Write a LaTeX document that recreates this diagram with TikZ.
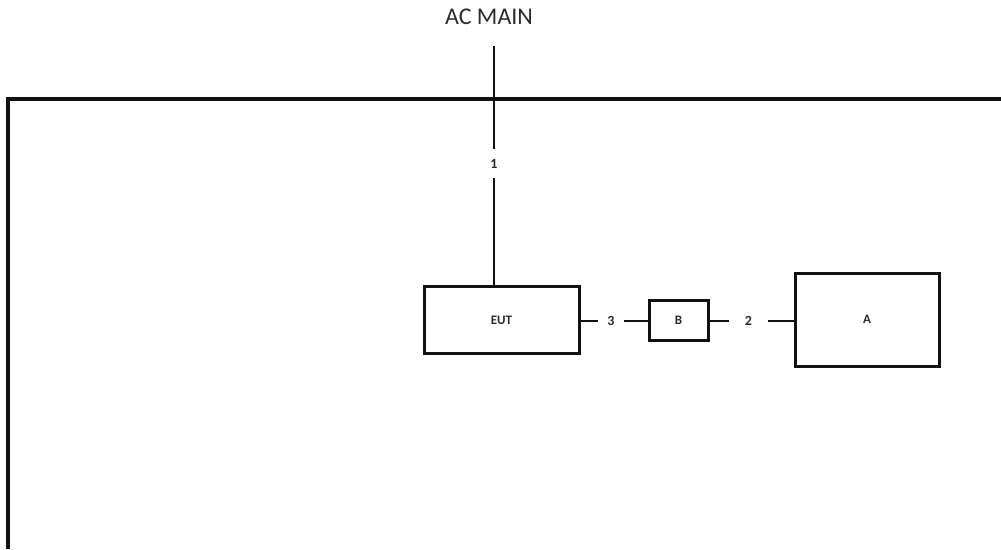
\documentclass[tikz,border=0pt]{standalone}
\usepackage{fontspec}
\setmainfont{Carlito}
\usetikzlibrary{positioning,calc}
\definecolor{Ink}{HTML}{111111}
\definecolor{Label}{HTML}{2B2B2B}
\tikzset{
 unit/.style={draw=Ink,line width=3pt,fill=white,inner sep=0pt,font=\bfseries\fontsize{13}{15}\selectfont,text=Label},
 tag/.style={inner sep=0pt,font=\bfseries\fontsize{14}{16}\selectfont,text=Label},
 wire/.style={draw=Ink,line width=1.6pt},
 frame/.style={draw=Ink,line width=3.2pt}
}

\begin{document}
\begin{tikzpicture}[x=1pt,y=-1pt]
\useasboundingbox (0,0) rectangle (1001,549);
% enclosure (open to the right and bottom)
\draw[frame] (8,549)--(8,99)--(1001,99);
\node[font=\fontsize{24}{28}\selectfont,text=Label] (ac) at (489,17) {AC MAIN};
\coordinate (acin) at (494,46);
\node[unit,minimum width=155pt,minimum height=67pt] (eut) at (501.5,320) {EUT};
\node[unit,minimum width=59pt,minimum height=40pt] (boxb) at (678.5,320.5) {B};
\node[unit,minimum width=144pt,minimum height=93pt] (boxa) at (867,319.5) {A};
\node[tag,minimum height=29pt] (l1) at (494,163.5) {1};
\node[tag,minimum width=26pt] (l3) at (611,321) {3};
\node[tag,minimum width=39pt] (l2) at (748.5,321) {2};
\draw[wire] (acin)--(l1.north);
\draw[wire] (l1.south)--(l1.south |- eut.north);
\foreach \x/\y in {eut/l3,l3/boxb,boxb/l2,l2/boxa} \draw[wire] (\x.east |- l3)--(\y.west |- l3);
\end{tikzpicture}
\end{document}
